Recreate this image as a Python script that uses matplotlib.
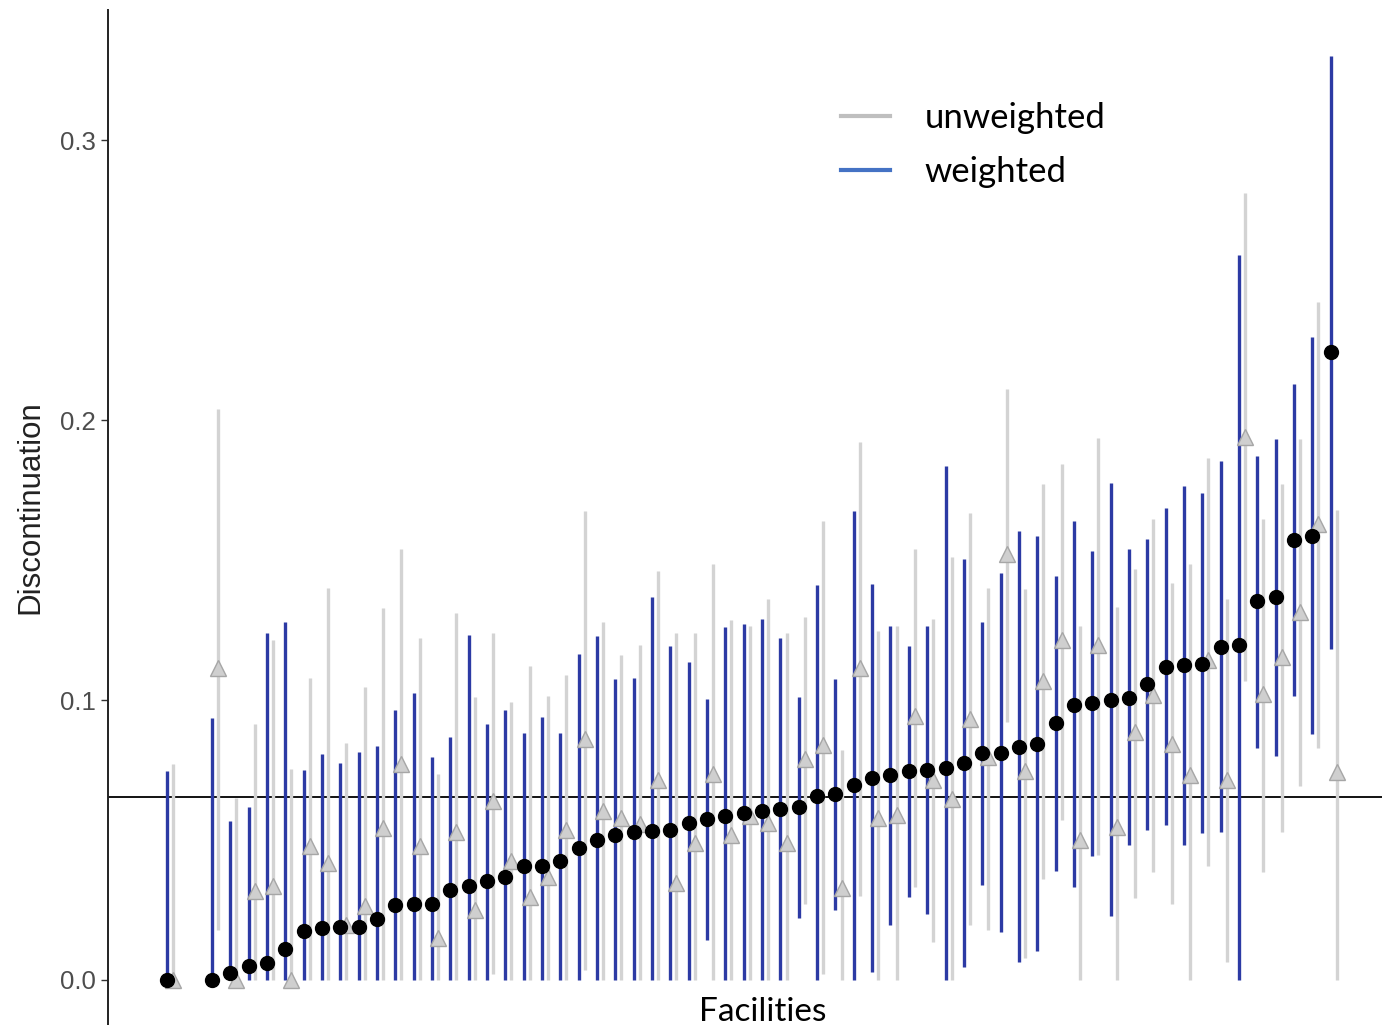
import numpy as np
import matplotlib
matplotlib.use("Agg")
import matplotlib.pyplot as plt
from matplotlib.lines import Line2D

# facility estimates, sorted by the weighted estimate
w_est = [0.0, 0.0, 0.0025, 0.005, 0.006, 0.011, 0.0175, 0.0185, 0.019, 0.019,
         0.0217, 0.0267, 0.0271, 0.0271, 0.0323, 0.0337, 0.0355, 0.0366, 0.0406, 0.0408,
         0.0424, 0.0473, 0.050, 0.0517, 0.0528, 0.0533, 0.0535, 0.0562, 0.0576, 0.0584,
         0.0598, 0.0605, 0.0612, 0.0616, 0.0656, 0.0663, 0.0695, 0.0723, 0.0733, 0.0747,
         0.0751, 0.0758, 0.0775, 0.081, 0.081, 0.0832, 0.0844, 0.0918, 0.0983, 0.0988,
         0.1001, 0.1008, 0.1057, 0.1117, 0.1124, 0.1129, 0.1189, 0.1196, 0.1352, 0.1367,
         0.157, 0.1586, 0.2243]
w_hi = [0.0747, 0.0937, 0.0566, 0.0618, 0.1238, 0.1277, 0.0751, 0.0807, 0.0775, 0.0815,
        0.0837, 0.0965, 0.1025, 0.0796, 0.0869, 0.1232, 0.0914, 0.0965, 0.0883, 0.0939,
        0.0883, 0.1166, 0.1227, 0.1075, 0.108, 0.1369, 0.1192, 0.1134, 0.1004, 0.126,
        0.127, 0.129, 0.1221, 0.1011, 0.1412, 0.1074, 0.1675, 0.1416, 0.1263, 0.1193,
        0.1266, 0.1836, 0.1505, 0.1277, 0.1453, 0.1604, 0.1586, 0.1444, 0.1638, 0.1534,
        0.1776, 0.1541, 0.1576, 0.1686, 0.1766, 0.1739, 0.1854, 0.259, 0.187, 0.1933,
        0.2128, 0.2296, 0.330]
w_lo = [0, 0, 0, 0, 0, 0, 0, 0, 0, 0,
        0, 0, 0, 0, 0, 0, 0, 0, 0, 0,
        0, 0, 0, 0, 0, 0, 0, 0, 0.0143, 0,
        0, 0, 0, 0.0223, 0, 0.025, 0, 0.003, 0.0197, 0.0296,
        0.0236, 0, 0.0046, 0.034, 0.017, 0.0063, 0.0102, 0.039, 0.0331, 0.0442,
        0.0227, 0.0483, 0.0535, 0.0552, 0.0483, 0.0524, 0.0529, 0, 0.0828, 0.080,
        0.1015, 0.0879, 0.1182]

u_est = [0, 0.1115, 0, 0.0317, 0.0337, 0, 0.048, 0.0417, 0.0196, 0.0264,
         0.0542, 0.0772, 0.048, 0.015, 0.0529, 0.025, 0.064, 0.0424, 0.0295, 0.0366,
         0.0535, 0.086, 0.0605, 0.058, 0.0556, 0.0716, 0.0345, 0.049, 0.0734, 0.0517,
         0.0587, 0.0559, 0.049, 0.079, 0.0841, 0.0327, 0.1115, 0.058, 0.059, 0.0943,
         0.0716, 0.0647, 0.0932, 0.0796, 0.1523, 0.0747, 0.1068, 0.1213, 0.050, 0.1196,
         0.0545, 0.0886, 0.1018, 0.0844, 0.0733, 0.1143, 0.0716, 0.194, 0.1022, 0.1152,
         0.1314, 0.1627, 0.0744]
u_hi = [0.0772, 0.204, 0.065, 0.0915, 0.1216, 0.0754, 0.108, 0.140, 0.0848, 0.1046,
        0.133, 0.154, 0.122, 0.0737, 0.131, 0.101, 0.124, 0.0994, 0.1122, 0.1013,
        0.109, 0.1675, 0.128, 0.116, 0.1196, 0.146, 0.124, 0.124, 0.1485, 0.1284,
        0.1263, 0.136, 0.124, 0.1296, 0.1638, 0.082, 0.192, 0.1248, 0.1263, 0.154,
        0.129, 0.1512, 0.1669, 0.140, 0.211, 0.1395, 0.177, 0.1843, 0.1263, 0.1937,
        0.1332, 0.1467, 0.1648, 0.1419, 0.1485, 0.1866, 0.136, 0.281, 0.1648, 0.177,
        0.1933, 0.242, 0.168]
u_lo = [0, 0.0178, 0, 0, 0, 0, 0, 0, 0, 0,
        0, 0, 0, 0, 0, 0, 0.002, 0, 0, 0,
        0, 0.0035, 0, 0, 0, 0, 0, 0, 0, 0,
        0, 0, 0, 0.0271, 0.002, 0, 0.030, 0, 0, 0.0331,
        0.0136, 0, 0.0195, 0.018, 0.092, 0.008, 0.0359, 0.0573, 0, 0.0448,
        0, 0.0292, 0.0385, 0.0271, 0, 0.0406, 0.0065, 0.1067, 0.0387, 0.0529,
        0.0693, 0.0828, 0]

overall = 0.0654

# first facility sits apart from the rest
pos = np.r_[0, 2.45 + np.arange(len(w_est) - 1)]
off = 0.33

blue = '#2c3aa4'
grey = '#d3d3d3'

fig = plt.figure(figsize=(13.82, 10.25), dpi=100)
ax = fig.add_axes([0.0781, 0.0, 0.9219, 0.99])

ax.axhline(overall, color='black', lw=1.3, zorder=1)
ax.vlines(pos + off, u_lo, u_hi, color=grey, lw=2.4, zorder=2)
ax.vlines(pos, w_lo, w_hi, color=blue, lw=2.4, zorder=2)
ax.plot(pos + off, u_est, '^', ms=11, mfc='#cfcfcf', mec='#a6a6a6', mew=1.0, ls='none', zorder=3)
ax.plot(pos, w_est, 'o', ms=10, color='black', ls='none', zorder=4)

ax.set_xlim(-3.22, 66.25)
ax.set_ylim(-0.0161, 0.3464)
ax.set_yticks([0.0, 0.1, 0.2, 0.3])
ax.set_yticklabels(['0.0', '0.1', '0.2', '0.3'])
ax.tick_params(axis='y', length=5, width=1, color='#333333', labelsize=18.5,
               labelcolor='#4d4d4d', pad=4)
ax.set_xticks([])
for s in ['top', 'right', 'bottom']:
    ax.spines[s].set_visible(False)
ax.spines['left'].set_linewidth(1.4)
ax.spines['left'].set_color('#222222')
for lab in ax.get_yticklabels():
    lab.set_family('Liberation Sans')

fig.text(0.022, 0.505, 'Discontinuation', rotation=90, ha='center', va='center',
         fontsize=22.5, family='Liberation Sans', color='#222222')
fig.text(0.552, 0.013, 'Facilities', ha='center', va='center', fontsize=24, family='Lato')

handles = [Line2D([], [], color='#bfbfbf', lw=3),
           Line2D([], [], color='#4472c4', lw=3)]
leg = fig.legend(handles, ['unweighted', 'weighted'], loc='upper left',
                 bbox_to_anchor=(0.586, 0.931), frameon=False, handlelength=1.4,
                 handletextpad=1.0, labelspacing=0.64, prop={'family': 'Lato', 'size': 25})

fig.savefig('out.png', dpi=100)
